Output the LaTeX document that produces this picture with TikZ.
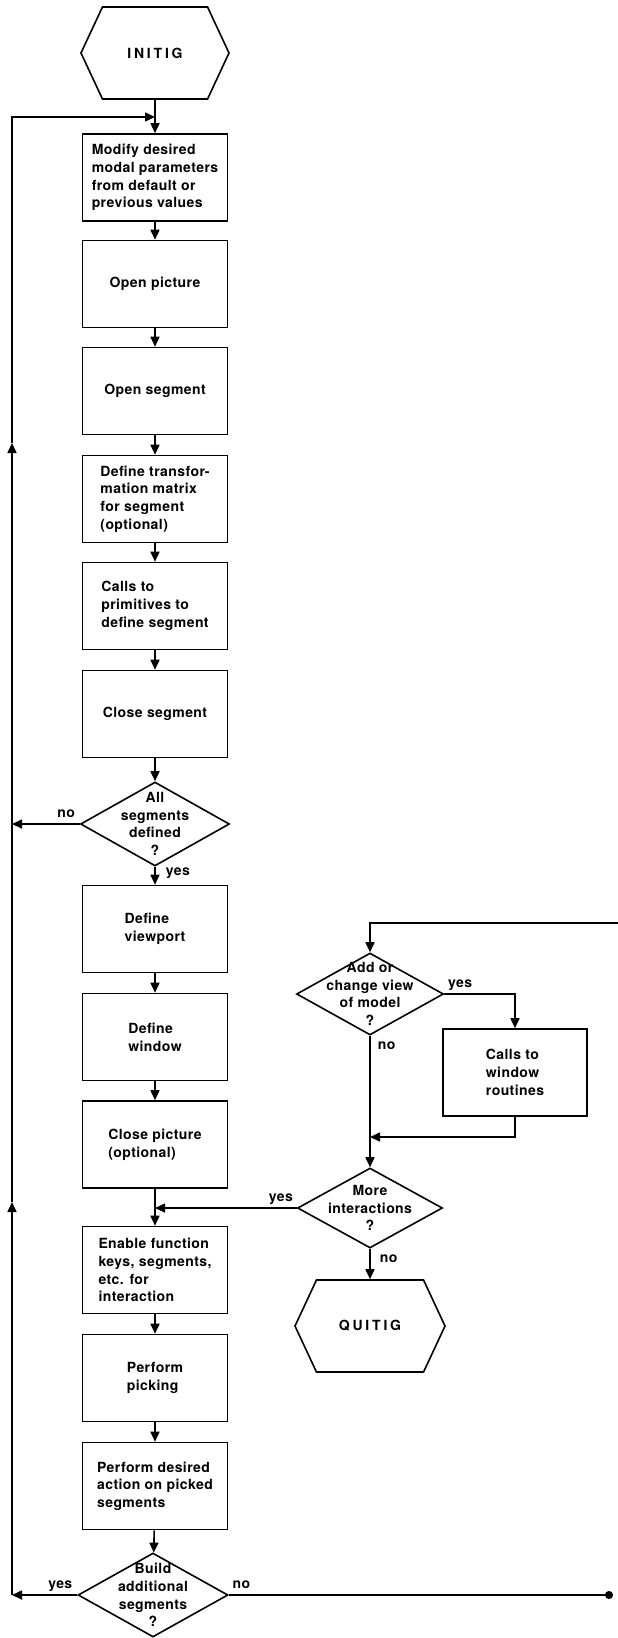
\documentclass[tikz,border=0pt]{standalone}
\usepackage{fontspec}
\setmainfont{TeX Gyre Heros}[LetterSpace=3]
\newfontfamily\hexfont{TeX Gyre Heros}[LetterSpace=20]
\usetikzlibrary{shapes.geometric,shapes.symbols,arrows.meta}
\newcommand\flowfont{\bfseries\fontsize{14pt}{17.7pt}\selectfont}
\tikzset{
  box/.style={draw, line width=1.6pt, minimum width=145pt, minimum height=87pt,
    align=left, inner sep=2pt, font=\flowfont},
  dia/.style={draw, diamond, line width=1.6pt, minimum width=149pt,
    minimum height=84pt, inner sep=0pt},
  diatext/.style={align=center, inner sep=0pt, font=\flowfont},
  hexa/.style={draw, signal, signal to=east and west, signal pointer angle=130,
    line width=1.6pt, minimum width=148pt, minimum height=92pt,
    font=\hexfont\bfseries\fontsize{14pt}{17pt}\selectfont},
  lbl/.style={font=\flowfont, inner sep=3pt, text height=10pt, text depth=3pt},
}
\begin{document}
\begin{tikzpicture}[x=1pt,y=-1pt,line width=1.6pt,>={Triangle[length=10pt,width=9pt]}]
\useasboundingbox (0,0) rectangle (618,1638);
% hlavni sloupec
\node[hexa] (initig) at (155,53) {INITIG};
\foreach \n/\y/\t in {b1/177.5/{Modify desired\\modal parameters\\from default or\\previous values},
    b2/284/{Open picture}, b3/391/{Open segment},
    b4/499/{Define transfor-\\mation matrix\\for segment\\(optional)},
    b5/606/{Calls to\\primitives to\\define segment}, b6/714/{Close segment},
    b7/929/{Define\\viewport}, b8/1037/{Define\\window},
    b9/1144.5/{Close picture\\(optional)},
    b10/1270/{Enable function\\keys, segments,\\etc. for\\interaction},
    b11/1378/{Perform\\picking},
    b12/1486/{Perform desired\\action on picked\\segments}}
  \node[box] (\n) at (155,\y) {\t};
\node[dia, label={[diatext]center:All\\segments\\defined\\?}] (alldef) at (155,824) {};
\node[dia, minimum width=150pt, label={[diatext]center:Build\\additional\\segments\\?}] (build) at (153,1595) {};
% pravy sloupec
\node[dia, minimum width=147pt, minimum height=82pt,
  label={[diatext]center:Add or\\change view\\of model\\?}] (addview) at (370,994) {};
\node[box, minimum width=144pt] (winrout) at (515,1072.5) {Calls to\\window\\routines};
\node[dia, minimum width=145pt, minimum height=80pt,
  label={[diatext]center:More\\interactions\\?}] (more) at (370,1208) {};
\node[hexa, minimum width=150pt] (quitig) at (370,1326) {QUITIG};
% body spojek
\coordinate (j1) at (155,117);
\coordinate (j2) at (155,1208);
\coordinate (j3) at (370,1137);
\coordinate (lt) at (12,117);
\coordinate (l1) at (12,824);
\coordinate (a2) at (12,443);
\coordinate (a1) at (12,1202);
\coordinate (lb) at (12,1595);
\coordinate (rt) at (618,923);
\coordinate (rb) at (613,1595);
% spojky
\draw[->] (initig) -- (b1);
\foreach \a/\b in {b1/b2, b2/b3, b3/b4, b4/b5, b5/b6, b6/alldef, b7/b8, b8/b9,
    b9/b10, b10/b11, b11/b12, b12/build}
  \draw[->] (\a) -- (\b);
\draw[->] (alldef) -- node[lbl, right=7pt, pos=0.3] (yes1) {yes} (b7);
\draw[->] (alldef.west) -- node[lbl, above, pos=0.2] (no1) {no} (l1);
\draw[->] (build.west) -- node[lbl, above, pos=0.26] (yes4) {yes} (lb);
\draw[-{Circle[length=8pt]}] (build.east) -- node[lbl, above right, pos=0] (no4) {no} (rb);
% smycka vlevo
\draw[->] (lb) -- (a1);
\draw[->] (a1) -- (a2);
\draw[->] (a2) -- (lt) -- (j1);
% prava cast
\draw[->] (rt) -| (addview.north);
\draw[->] (addview.east) -| node[lbl, above right, pos=0] (yes2) {yes} (winrout.north);
\draw[->] (winrout.south) |- (j3);
\draw[->] (addview.south) -- node[lbl, below right, xshift=4pt, pos=0] (no2) {no} (more.north);
\draw[->] (more.west) -- node[lbl, above left, pos=0] (yes3) {yes} (j2);
\draw[->] (more.south) -- node[lbl, below right, xshift=6pt, pos=0] (no3) {no} (quitig.north);
\end{tikzpicture}
\end{document}
